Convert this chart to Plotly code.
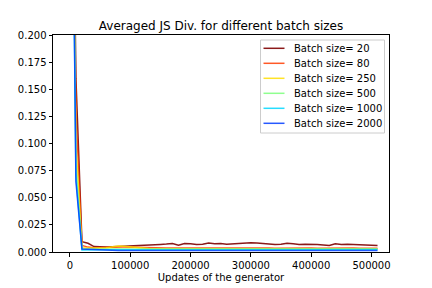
import plotly.graph_objects as go

updates = [i * 10000 for i in range(52)]

js_bs20 = [0.60, 0.16, 0.0095, 0.008, 0.005, 0.0045, 0.0045, 0.0048, 0.005, 0.0052,
           0.0055, 0.006, 0.0062, 0.0065, 0.0068, 0.007, 0.0073, 0.0078, 0.0062, 0.0078,
           0.0075, 0.007, 0.0072, 0.0082, 0.0075, 0.0078, 0.0072, 0.0075, 0.0082, 0.008,
           0.0085, 0.0082, 0.0078, 0.0075, 0.0068, 0.0072, 0.008, 0.0075, 0.007, 0.0072,
           0.0073, 0.007, 0.0065, 0.006, 0.0075, 0.007, 0.0072, 0.007, 0.0072, 0.007,
           0.0068, 0.006]
js_bs80 = [0.60, 0.13, 0.006, 0.0045, 0.004, 0.004, 0.004, 0.0042, 0.0045, 0.0047,
           0.0045, 0.004, 0.0038, 0.0037, 0.0037, 0.0036, 0.0036, 0.0037, 0.0036, 0.0036,
           0.0037, 0.0036, 0.0036, 0.0037, 0.0036, 0.0036, 0.0036, 0.0037, 0.0036, 0.0036,
           0.0036, 0.0036, 0.0037, 0.0036, 0.0035, 0.0036, 0.0036, 0.0036, 0.0035, 0.0036,
           0.0036, 0.0035, 0.0036, 0.0035, 0.0036, 0.0036, 0.0035, 0.0036, 0.0035, 0.0036,
           0.0035, 0.0034]
js_bs250 = [0.60, 0.10, 0.004, 0.0038, 0.0035, 0.0036, 0.004, 0.0048, 0.0055, 0.0052,
            0.0046, 0.0038, 0.0034, 0.0032, 0.0031, 0.0031, 0.0031, 0.003, 0.003, 0.003,
            0.003, 0.003, 0.003, 0.003, 0.003, 0.003, 0.003, 0.003, 0.003, 0.003,
            0.003, 0.003, 0.003, 0.003, 0.003, 0.003, 0.003, 0.003, 0.003, 0.003,
            0.003, 0.003, 0.003, 0.003, 0.003, 0.0031, 0.0031, 0.0031, 0.0031, 0.0031,
            0.0031, 0.0031]
js_bs500 = [0.60, 0.08, 0.003, 0.003, 0.003, 0.0029, 0.0028, 0.0028, 0.0028, 0.0027,
            0.0027, 0.0027, 0.0026, 0.0026, 0.0026, 0.0026, 0.0026, 0.0026, 0.0026, 0.0026,
            0.0026, 0.0026, 0.0026, 0.0026, 0.0026, 0.0026, 0.0026, 0.0026, 0.0026, 0.0026,
            0.0026, 0.0026, 0.0026, 0.0026, 0.0026, 0.0026, 0.0026, 0.0026, 0.0026, 0.0026,
            0.0026, 0.0026, 0.0026, 0.0026, 0.0026, 0.0026, 0.0026, 0.0027, 0.0027, 0.0027,
            0.0027, 0.0027]
js_bs1000 = [0.60, 0.07, 0.0018, 0.002, 0.0021, 0.0021, 0.0021, 0.0021, 0.0021, 0.0021,
             0.0021, 0.0021, 0.0021, 0.0021, 0.0021, 0.0021, 0.0021, 0.0021, 0.0021, 0.0021,
             0.0021, 0.0021, 0.0021, 0.0021, 0.0021, 0.0021, 0.0021, 0.0021, 0.0021, 0.0021,
             0.0021, 0.0021, 0.0021, 0.0021, 0.0021, 0.0021, 0.0021, 0.0021, 0.0021, 0.0021,
             0.0021, 0.0021, 0.0021, 0.0021, 0.0021, 0.0022, 0.0022, 0.0022, 0.0023, 0.0023,
             0.0023, 0.0023]
js_bs2000 = [0.60, 0.065, 0.0028, 0.0025, 0.002, 0.0016, 0.0014, 0.0013, 0.0013, 0.0013,
             0.0013, 0.0013, 0.0012, 0.0012, 0.0012, 0.0012, 0.0012, 0.0012, 0.0012, 0.0012,
             0.0012, 0.0012, 0.0012, 0.0012, 0.0012, 0.0012, 0.0012, 0.0012, 0.0012, 0.0012,
             0.0012, 0.0012, 0.0012, 0.0012, 0.0012, 0.0012, 0.0012, 0.0012, 0.0012, 0.0012,
             0.0012, 0.0012, 0.0012, 0.0012, 0.0012, 0.0012, 0.0013, 0.0013, 0.0013, 0.0013,
             0.0013, 0.0013]

series_names = ["Batch size= 20", "Batch size= 80", "Batch size= 250",
                "Batch size= 500", "Batch size= 1000", "Batch size= 2000"]
series_values = [js_bs20, js_bs80, js_bs250, js_bs500, js_bs1000, js_bs2000]
series_colors = ["rgba(128,0,0,0.9)", "rgba(255,60,0,0.85)", "rgba(255,222,0,0.85)",
                 "rgba(123,255,123,0.85)", "rgba(0,215,255,0.85)", "rgba(0,60,255,0.85)"]

x_ticks = [0, 100000, 200000, 300000, 400000, 500000]
y_ticks = [0.0, 0.025, 0.05, 0.075, 0.1, 0.125, 0.15, 0.175, 0.2]

W, H = 432, 288
ML, MR, MT, MB = 53, 43, 35, 36
PW, PH = W - ML - MR, H - MT - MB


def px_x(px):
    return (px - ML) / PW


def px_y(py):
    return 1 - (py - MT) / PH


fig = go.Figure()
for name, vals, col in zip(series_names, series_values, series_colors):
    fig.add_trace(go.Scatter(x=updates, y=vals, mode="lines", name=name,
                             line=dict(color=col, width=1.5), showlegend=False))

font_family = "DejaVu Sans"

# matplotlib-style legend (tight row spacing)
shapes = [dict(type="rect", xref="paper", yref="paper",
               x0=px_x(260.5), x1=px_x(384.5), y0=px_y(133), y1=px_y(40),
               line=dict(color="#cccccc", width=1), fillcolor="rgba(255,255,255,0.8)",
               layer="above")]
annotations = []
row_top, row_step = 48.3, 15.0
for i, (name, col) in enumerate(zip(series_names, series_colors)):
    yy = px_y(row_top + i * row_step)
    shapes.append(dict(type="line", xref="paper", yref="paper",
                       x0=px_x(263.5), x1=px_x(284.5), y0=yy, y1=yy,
                       line=dict(color=col, width=1.5), layer="above"))
    annotations.append(dict(xref="paper", yref="paper", x=px_x(292), y=yy,
                            xanchor="left", yanchor="middle", text=name, showarrow=False,
                            font=dict(size=10, family=font_family, color="black")))

fig.update_layout(
    width=W, height=H,
    margin=dict(l=ML, r=MR, t=MT, b=MB, autoexpand=False),
    paper_bgcolor="white", plot_bgcolor="white",
    font=dict(family=font_family, size=10, color="black"),
    title=dict(text="Averaged JS Div. for different batch sizes",
               x=0.5, xref="paper", xanchor="center",
               y=1 - 25.5 / H, yanchor="middle",
               font=dict(size=12, family=font_family, color="black")),
    showlegend=False,
    shapes=shapes,
    annotations=annotations,
)
fig.update_xaxes(range=[-28000, 529000], tickvals=x_ticks,
                 ticktext=[str(v) for v in x_ticks], automargin=False,
                 showgrid=False, zeroline=False, showline=True, mirror=True,
                 linecolor="black", linewidth=1, ticks="outside", ticklen=3.5,
                 tickcolor="black", tickfont=dict(size=10),
                 title=dict(text="Updates of the generator", font=dict(size=10), standoff=4))
fig.update_yaxes(range=[0, 0.2], tickvals=y_ticks,
                 ticktext=["%.3f" % v for v in y_ticks], automargin=False,
                 showgrid=False, zeroline=False, showline=True, mirror=True,
                 linecolor="black", linewidth=1, ticks="outside", ticklen=3.5,
                 tickcolor="black", tickfont=dict(size=10))

fig.write_html("out.html", config={"displayModeBar": False},
               post_script="document.body.style.margin='0px';document.body.style.padding='0px';")
